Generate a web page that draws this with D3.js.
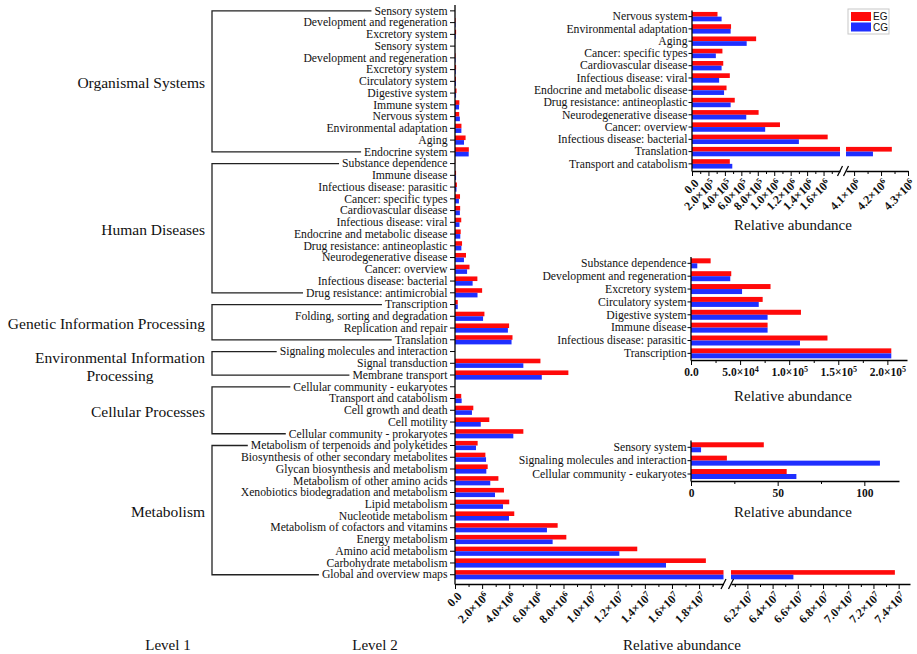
<!doctype html>
<html>
<head>
<meta charset="utf-8">
<script src="https://cdnjs.cloudflare.com/ajax/libs/d3/7.8.5/d3.min.js"></script>
<style>
  body { margin: 0; background: #fff; }
  svg text { font-family: "Liberation Serif", "Times New Roman", serif; fill: #111; }
  .domain { stroke: #000; stroke-width: 1.3; }
  .tick line { stroke: #000; stroke-width: 1; }
</style>
</head>
<body>
<svg id="chart" width="917" height="654"></svg>
<script>
// ---- data ----
const organismalCats = ["Sensory system", "Development and regeneration", "Excretory system", "Sensory system",
  "Development and regeneration", "Excretory system", "Circulatory system", "Digestive system", "Immune system",
  "Nervous system", "Environmental adaptation", "Aging", "Endocrine system"];
const organismalEG = [42, 41000, 81000, 42, 41000, 81000, 73000, 112000, 320000, 310000, 475000, 780000, 1020000];
const organismalCG = [5.8, 40000, 52000, 5.8, 40000, 52000, 69000, 78000, 300000, 360000, 470000, 665000, 1010000];

const diseaseCats = ["Substance dependence", "Immune disease", "Infectious disease: parasitic", "Cancer: specific types",
  "Cardiovascular disease", "Infectious disease: viral", "Endocrine and metabolic disease",
  "Drug resistance: antineoplastic", "Neurodegenerative disease", "Cancer: overview",
  "Infectious disease: bacterial", "Drug resistance: antimicrobial"];
const diseaseEG = [20000, 78000, 139000, 370000, 380000, 460000, 420000, 520000, 810000, 1070000, 1650000, 2000000];
const diseaseCG = [6400, 78000, 111000, 290000, 360000, 330000, 390000, 470000, 660000, 890000, 1300000, 1660000];

const geneticCats = ["Transcription", "Folding, sorting and degradation", "Replication and repair", "Translation"];
const geneticEG = [204000, 2170000, 3990000, 4240000];
const geneticCG = [204000, 2070000, 3900000, 4170000];

const envCats = ["Signaling molecules and interaction", "Signal transduction", "Membrane transport"];
const envEG = [20.7, 6300000, 8360000];
const envCG = [109, 5040000, 6400000];

const cellularCats = ["Cellular community - eukaryotes", "Transport and catabolism", "Cell growth and death",
  "Cell motility", "Cellular community - prokaryotes"];
const cellularEG = [55.2, 460000, 1350000, 2530000, 5040000];
const cellularCG = [60.8, 490000, 1250000, 1900000, 4300000];

const metabolismCats = ["Metabolism of terpenoids and polyketides", "Biosynthesis of other secondary metabolites",
  "Glycan biosynthesis and metabolism", "Metabolism of other amino acids", "Xenobiotics biodegradation and metabolism",
  "Lipid metabolism", "Nucleotide metabolism", "Metabolism of cofactors and vitamins", "Energy metabolism",
  "Amino acid metabolism", "Carbohydrate metabolism", "Global and overview maps"];
const metabolismEG = [1670000, 2240000, 2410000, 3200000, 3610000, 4000000, 4370000, 7570000, 8210000, 13440000, 18500000, 73700000];
const metabolismCG = [1550000, 2290000, 2310000, 2600000, 2950000, 3540000, 3980000, 6780000, 7200000, 12120000, 15560000, 65650000];

const level1Names = ["Organismal Systems", "Human Diseases", "Genetic Information Processing",
  "Environmental Information Processing", "Cellular Processes", "Metabolism"];

// insets (zoomed views of the same categories)
const topInsetCats = ["Nervous system", "Environmental adaptation", "Aging", "Cancer: specific types",
  "Cardiovascular disease", "Infectious disease: viral", "Endocrine and metabolic disease",
  "Drug resistance: antineoplastic", "Neurodegenerative disease", "Cancer: overview",
  "Infectious disease: bacterial", "Translation", "Transport and catabolism"];
const midInsetCats = ["Substance dependence", "Development and regeneration", "Excretory system", "Circulatory system",
  "Digestive system", "Immune disease", "Infectious disease: parasitic", "Transcription"];
const lowInsetCats = ["Sensory system", "Signaling molecules and interaction", "Cellular community - eukaryotes"];

// tick values
const mainTicksA = [0, 2e6, 4e6, 6e6, 8e6, 1e7, 1.2e7, 1.4e7, 1.6e7, 1.8e7];
const mainTicksB = [6.2e7, 6.4e7, 6.6e7, 6.8e7, 7.0e7, 7.2e7, 7.4e7];
const topTicksA = [0, 2e5, 4e5, 6e5, 8e5, 1e6, 1.2e6, 1.4e6, 1.6e6];
const topTicksB = [4.1e6, 4.2e6, 4.3e6];
const midTicks = [0, 5e4, 1e5, 1.5e5, 2e5];
const lowTicks = [0, 50, 100];

const seriesNames = ["EG", "CG"];
const RED = "#ff0a0a", BLUE = "#1f2fff";

// ---- build rows ----
const groups = [
  [organismalCats, organismalEG, organismalCG],
  [diseaseCats, diseaseEG, diseaseCG],
  [geneticCats, geneticEG, geneticCG],
  [envCats, envEG, envCG],
  [cellularCats, cellularEG, cellularCG],
  [metabolismCats, metabolismEG, metabolismCG]
];
const rows = [];
groups.forEach((gr, gi) => gr[0].forEach((c, i) => rows.push({ name: c, eg: gr[1][i], cg: gr[2][i], group: gi })));
const lookup = {};
rows.forEach(r => { if (!lookup[r.name]) lookup[r.name] = r; });
const pick = names => names.map(n => lookup[n]);

const svg = d3.select("#chart");

function sciLabel(sel, v) {
  sel.text(null);
  if (v === 0) { sel.text("0.0"); return; }
  const e = Math.floor(Math.log10(v) + 1e-9);
  const m = v / Math.pow(10, e);
  sel.append("tspan").text(m.toFixed(1) + "×10");
  sel.append("tspan").attr("dy", -4).attr("font-size", "0.7em").text(e);
}

function drawPanel(p) {
  const g = svg.append("g");
  const n = p.rows.length;
  const y = d3.scaleBand().domain(d3.range(n)).range(p.yRange);
  const segs = p.segments.map(s => Object.assign({}, s, { scale: d3.scaleLinear().domain(s.domain).range(s.range) }));
  const x0 = segs[0].range[0];

  // bars, split over the axis break
  const pieces = [];
  p.rows.forEach((r, i) => {
    [r.eg, r.cg].forEach((v, k) => {
      const yy = y(i) + y.bandwidth() / 2 + (k === 0 ? -p.barH : 0);
      segs.forEach((sg, si) => {
        const lo = si === 0 ? 0 : sg.domain[0];
        if (si > 0 && v <= lo) return;
        const hi = Math.min(v, sg.domain[1]);
        pieces.push({ x: sg.scale(lo), w: sg.scale(hi) - sg.scale(lo), y: yy, c: k === 0 ? RED : BLUE });
      });
    });
  });
  g.selectAll("rect.bar").data(pieces).enter().append("rect")
    .attr("class", "bar")
    .attr("x", d => d.x).attr("y", d => d.y)
    .attr("width", d => Math.max(0, d.w)).attr("height", p.barH)
    .attr("fill", d => d.c);

  // y axis
  const ya = g.append("g").attr("transform", `translate(${x0},0)`)
    .call(d3.axisLeft(y).tickSize(p.tickLen).tickPadding(p.pad).tickFormat(i => p.rows[i].name));
  ya.select(".domain").remove();
  ya.selectAll("text").attr("font-size", 11.7).attr("fill", "#111");
  g.append("line").attr("x1", x0).attr("x2", x0).attr("y1", p.yRange[0]).attr("y2", p.axisY + 0.5)
    .attr("stroke", "#000").attr("stroke-width", 1.3);

  // x axis pieces
  segs.forEach(sg => {
    const mn = g.append("g").attr("transform", `translate(0,${p.axisY})`)
      .call(d3.axisBottom(sg.scale).tickValues(sg.minor).tickSize(3).tickFormat(""));
    mn.select(".domain").remove();
    const xa = g.append("g").attr("transform", `translate(0,${p.axisY})`)
      .call(d3.axisBottom(sg.scale).tickValues(sg.major).tickSize(5).tickSizeOuter(0));
    xa.selectAll(".tick text").attr("font-size", p.rotate ? 12 : 11.5).attr("font-weight", "bold").attr("fill", "#111")
      .each(function (v) { p.fmt(d3.select(this), v); });
    if (p.rotate) {
      xa.selectAll(".tick text").attr("y", 0).attr("dy", 0).attr("text-anchor", "end")
        .attr("transform", "translate(7,13) rotate(-45)");
    }
  });
  if (segs.length > 1) {
    [segs[0].range[1], segs[1].range[0]].forEach(bx => {
      g.append("line").attr("x1", bx - 2.5).attr("x2", bx + 2.5)
        .attr("y1", p.axisY + 5).attr("y2", p.axisY - 5)
        .attr("stroke", "#000").attr("stroke-width", 1.2);
    });
  }

  // axis title
  g.append("text").attr("x", p.titleX).attr("y", p.titleY).attr("text-anchor", "middle")
    .attr("font-size", 15).text("Relative abundance");
  return { y, ya };
}

const sciFmt = (sel, v) => sciLabel(sel, v);
const main = drawPanel({
  rows: rows, yRange: [5, 580.6], axisY: 584, barH: 4.6, tickLen: 5, pad: 2.5, rotate: true, fmt: sciFmt,
  segments: [
    { domain: [0, 1.98e7], range: [455, 723.5], major: mainTicksA, minor: d3.range(1e6, 1.95e7, 2e6) },
    { domain: [6.07e7, 7.49e7], range: [731, 910], major: mainTicksB, minor: d3.range(6.1e7, 7.46e7, 2e6) }
  ],
  titleX: 682, titleY: 650
});

drawPanel({
  rows: pick(topInsetCats), yRange: [10.5, 170], axisY: 171, barH: 4.7, tickLen: 3.5, pad: 1, rotate: true, fmt: sciFmt,
  segments: [
    { domain: [0, 1.8e6], range: [692, 840], major: topTicksA, minor: d3.range(1e5, 1.75e6, 2e5) },
    { domain: [4.07e6, 4.3e6], range: [846, 908], major: topTicksB, minor: [4.15e6, 4.25e6] }
  ],
  titleX: 793, titleY: 230
});

drawPanel({
  rows: pick(midInsetCats), yRange: [256.9, 359.8], axisY: 360, barH: 5, tickLen: 3.5, pad: 1, rotate: false, fmt: sciFmt,
  segments: [{ domain: [0, 2.2e5], range: [691, 907], major: midTicks, minor: [2.5e4, 7.5e4, 1.25e5, 1.75e5] }],
  titleX: 793, titleY: 401
});

drawPanel({
  rows: pick(lowInsetCats), yRange: [440.6, 480.7], axisY: 481, barH: 5, tickLen: 3.5, pad: 1, rotate: false,
  fmt: (sel, v) => sel.text(v),
  segments: [{ domain: [0, 120], range: [691, 899], major: lowTicks, minor: [25, 75] }],
  titleX: 793, titleY: 517
});

// ---- level 1 brackets ----
const tickTexts = main.ya.selectAll(".tick text").nodes();
const rowY = i => main.y(i) + main.y.bandwidth() / 2;
const bx = 212;
let start = 0;
groups.forEach((gr, gi) => {
  const a = start, b = start + gr[0].length - 1;
  start = b + 1;
  const ya = rowY(a), yb = rowY(b);
  const endA = 455 - 5 - 2.5 - tickTexts[a].getComputedTextLength() - 3;
  const endB = 455 - 5 - 2.5 - tickTexts[b].getComputedTextLength() - 3;
  const path = d3.path();
  path.moveTo(endA, ya); path.lineTo(bx, ya); path.lineTo(bx, yb); path.lineTo(endB, yb);
  svg.append("path").attr("d", path.toString()).attr("fill", "none")
    .attr("stroke", "#222").attr("stroke-width", 1.3);

  const mid = (ya + yb) / 2;
  const name = level1Names[gi];
  if (name === "Environmental Information Processing") {
    const t = svg.append("text").attr("font-size", 15.5).attr("text-anchor", "middle");
    const l1 = t.append("tspan").attr("y", mid - 6).attr("dy", "0.35em").text("Environmental Information");
    const w = l1.node().getComputedTextLength();
    l1.attr("x", 205 - w / 2);
    t.append("tspan").attr("x", 205 - w / 2).attr("y", mid + 12).attr("dy", "0.35em").text("Processing");
  } else {
    svg.append("text").attr("x", 205).attr("y", mid + 1).attr("dy", "0.35em")
      .attr("text-anchor", "end").attr("font-size", 15.5).text(name);
  }
});

svg.append("text").attr("x", 168).attr("y", 650).attr("text-anchor", "middle").attr("font-size", 15).text("Level 1");
svg.append("text").attr("x", 375).attr("y", 650).attr("text-anchor", "middle").attr("font-size", 15).text("Level 2");

// ---- legend ----
const lg = svg.append("g").attr("transform", "translate(848,9)");
lg.append("rect").attr("width", 41).attr("height", 25).attr("fill", "#fff")
  .attr("stroke", "#c8c8c8").attr("stroke-width", 1);
seriesNames.forEach((s, i) => {
  lg.append("rect").attr("x", 3).attr("y", 3 + i * 10.5).attr("width", 20).attr("height", 9)
    .attr("fill", i === 0 ? RED : BLUE);
  lg.append("text").attr("x", 25).attr("y", 11 + i * 10.5).attr("font-size", 10)
    .style("font-family", "'Liberation Sans', Arial, sans-serif").text(s);
});
</script>
</body>
</html>
